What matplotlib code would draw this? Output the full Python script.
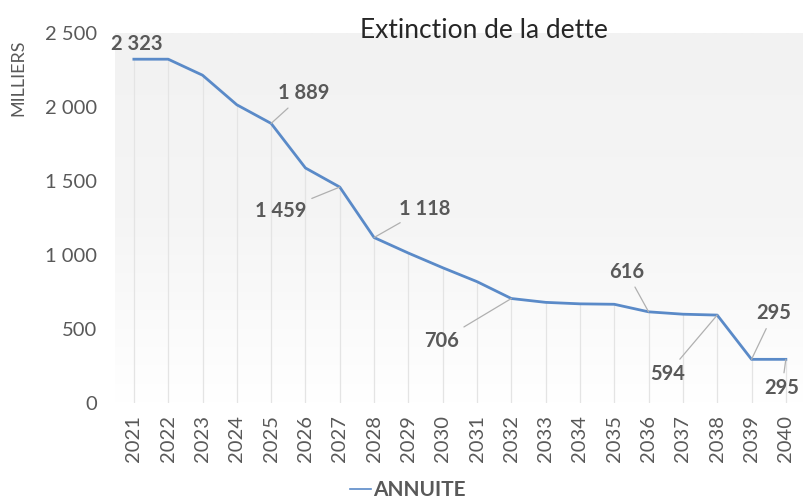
import numpy as np
import matplotlib
matplotlib.use("Agg")
import matplotlib.pyplot as plt
from matplotlib.colors import LinearSegmentedColormap

years = [str(y) for y in range(2021, 2041)]
annuite = [2323, 2323, 2215, 2015, 1889, 1588, 1459, 1118, 1013, 914,
           820, 706, 680, 670, 667, 616, 600, 594, 295, 295]
yticks = [0, 500, 1000, 1500, 2000, 2500]
ytick_labels = ["0", "500", "1 000", "1 500", "2 000", "2 500"]

# labelled points: index -> offset in pixels (dx, dy with y downward), leader line?
labels = {0: (3, -15, False), 4: (33, -30, True), 6: (-59, 24, True),
          7: (51, -29, True), 11: (-70, 42, True), 15: (-22, -40, True),
          17: (-50, 59, True), 18: (22, -46, True), 19: (-4, 29, True)}

plt.rcParams['font.family'] = ['Lato', 'DejaVu Sans']
TXT = '#595959'
LINE = '#5a8ac8'

fig = plt.figure(figsize=(8.11, 5.0), dpi=100)
ax = fig.add_axes([115/811, 1-403/500, (803-115)/811, (403-33)/500])
x = np.arange(len(years))
ax.set_xlim(-0.55, len(years) - 0.5)
ax.set_ylim(0, 2500)

# background gradient
grad = np.linspace(0, 1, 256).reshape(-1, 1)
ax.imshow(np.flipud(grad), extent=[-0.55, len(years) - 0.5, 0, 2500], aspect='auto',
          cmap=LinearSegmentedColormap.from_list('bg2', ['#f2f2f2', '#f5f5f5', '#ffffff']),
          origin='lower', zorder=0, vmin=0, vmax=1)

ax.vlines(x, 0, annuite, color='#e4e4e4', lw=0.9, zorder=1)
line, = ax.plot(x, annuite, color=LINE, lw=2.0, zorder=3, label='ANNUITE')

def fmt(v):
    return f"{v:,}".replace(",", " ")

for i, (dx, dy, leader) in labels.items():
    kw = dict(arrowprops=dict(arrowstyle='-', color='#b0b0b0', lw=0.9,
                              shrinkA=2, shrinkB=0)) if leader else {}
    ax.annotate(fmt(annuite[i]), xy=(x[i], annuite[i]),
                xytext=(dx * 0.72, -dy * 0.72), textcoords='offset points',
                ha='center', va='center', fontsize=14.5, fontweight='bold',
                color=TXT, zorder=5, **kw)

ax.set_yticks(yticks)
ax.set_yticklabels(ytick_labels)
ax.set_xticks(x)
ax.set_xticklabels(years, rotation=90)
ax.tick_params(axis='both', length=0, labelsize=14.5, labelcolor=TXT)
ax.tick_params(axis='y', pad=13)
ax.tick_params(axis='x', pad=9)
for s in ax.spines.values():
    s.set_visible(False)

fig.text(484/811, 1-30/500, 'Extinction de la dette', ha='center', va='center',
         fontsize=19, color='#262626')
fig.text(18/811, 1-78/500, 'MILLIERS', ha='center', va='center', rotation=90,
         fontsize=13, color=TXT)

leg = fig.legend(handles=[line], loc='center', bbox_to_anchor=(408/811, 1-490/500),
                 frameon=False, handlelength=1.0, handletextpad=0.1,
                 prop=dict(weight='bold', size=15))
leg.get_lines()[0].set_linewidth(1.2)
for t in leg.get_texts():
    t.set_color(TXT)

fig.savefig('out.png', dpi=100)
